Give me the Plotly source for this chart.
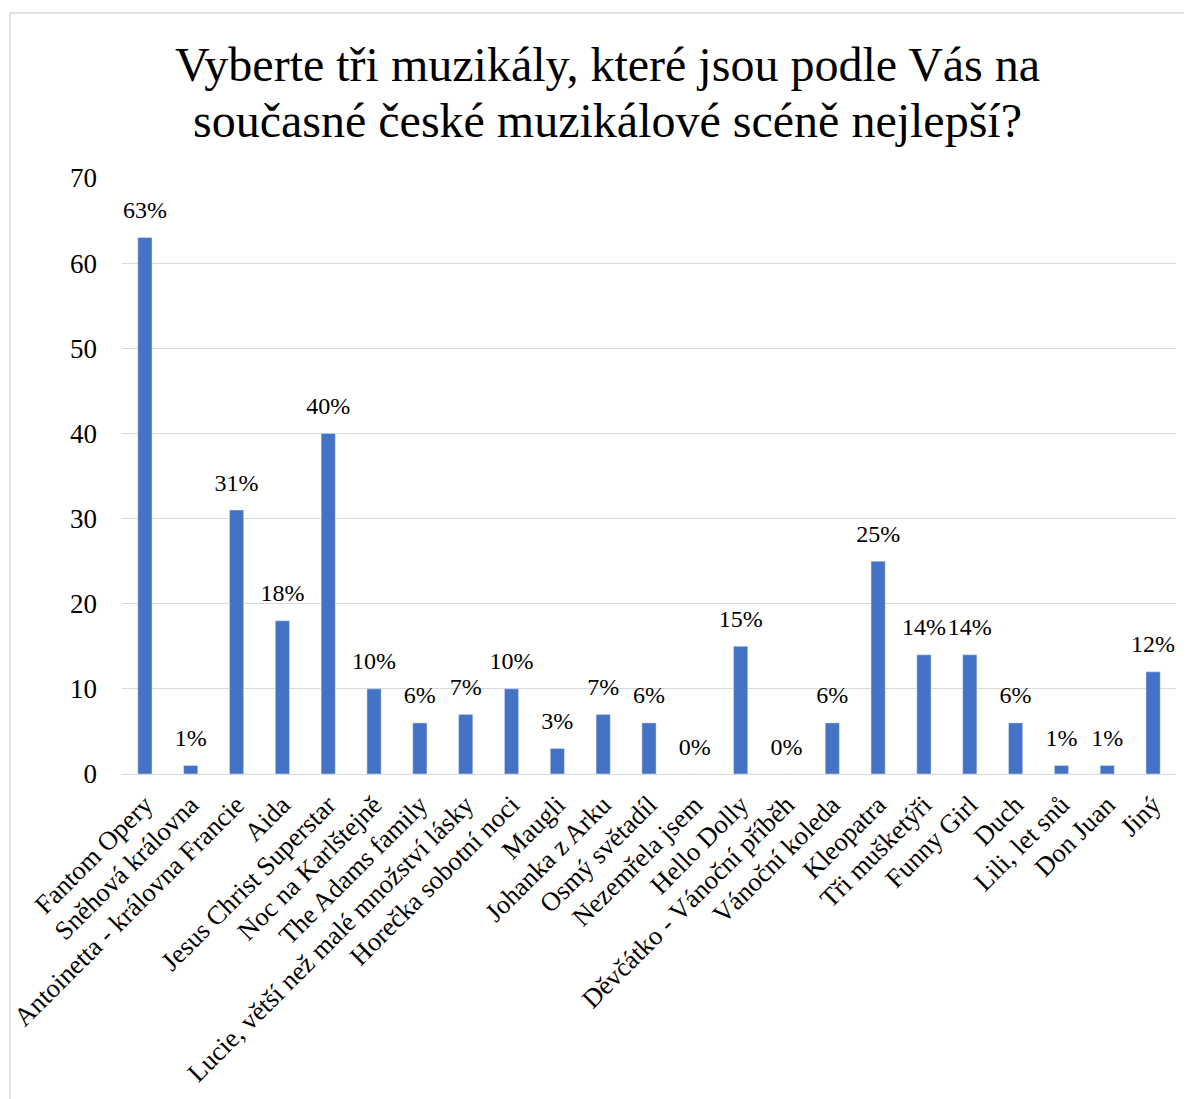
import plotly.graph_objects as go

categories = ["Fantom Opery", "Sněhová královna", "Antoinetta - královna Francie", "Aida",
              "Jesus Christ Superstar", "Noc na Karlštejně", "The Adams family",
              "Lucie, větší než malé množství lásky", "Horečka sobotní noci", "Maugli",
              "Johanka z Arku", "Osmý světadíl", "Nezemřela jsem", "Hello Dolly",
              "Děvčátko - Vánoční příběh", "Vánoční koleda", "Kleopatra", "Tři mušketýři",
              "Funny Girl", "Duch", "Lili, let snů", "Don Juan", "Jiný"]
values = [63, 1, 31, 18, 40, 10, 6, 7, 10, 3, 7, 6, 0, 15, 0, 6, 25, 14, 14, 6, 1, 1, 12]
labels = [f"{v}%" for v in values]
y_ticks = [0, 10, 20, 30, 40, 50, 60, 70]
title_lines = ["Vyberte tři muzikály, které jsou podle Vás na",
               "současné české muzikálové scéně nejlepší?"]

FONT = "Liberation Serif, Times New Roman, serif"

fig = go.Figure()
fig.add_trace(go.Bar(
    x=categories, y=values,
    marker=dict(color="#4472c4"), hoverinfo="x+y",
))
fig.add_trace(go.Scatter(
    x=categories, y=values, text=labels, mode="markers+text",
    textposition="top center",
    textfont=dict(family=FONT, size=24, color="#000000"),
    marker=dict(size=20, color="rgba(0,0,0,0)"), cliponaxis=False, hoverinfo="skip",
))

fig.update_layout(
    width=1184, height=1091,
    margin=dict(l=114, r=16, t=170, b=325, autoexpand=False),
    paper_bgcolor="white", plot_bgcolor="white",
    bargap=0.69,
    showlegend=False,
    font=dict(family=FONT, color="#000000"),
)
for txt, yy in zip(title_lines, [1.1896, 1.0973]):
    fig.add_annotation(text=txt, xref="paper", yref="paper", x=0.4602, y=yy,
                       xanchor="center", yanchor="middle", showarrow=False,
                       font=dict(family=FONT, size=48, color="#000000"))

fig.update_yaxes(range=[0, 70], tickvals=y_ticks, gridcolor="#d9d9d9", gridwidth=1,
                 zeroline=True, zerolinecolor="#d9d9d9", zerolinewidth=1,
                 tickfont=dict(family=FONT, size=27, color="#000000"), ticks="", ticklen=0,
                 ticklabelstandoff=24, showline=False, automargin=False)
fig.update_xaxes(range=[-0.5, len(categories) - 0.5],
                 tickangle=-45, tickfont=dict(family=FONT, size=26.5, color="#000000"),
                 showline=False, ticks="", showgrid=False, ticklabelstandoff=9,
                 automargin=False)

fig.add_shape(type="rect", xref="paper", yref="paper",
              x0=-0.1063, x1=1.03, y0=-0.6, y1=1.2768,
              line=dict(color="#d9d9d9", width=1.5), layer="below")

fig.write_html("out.html")
